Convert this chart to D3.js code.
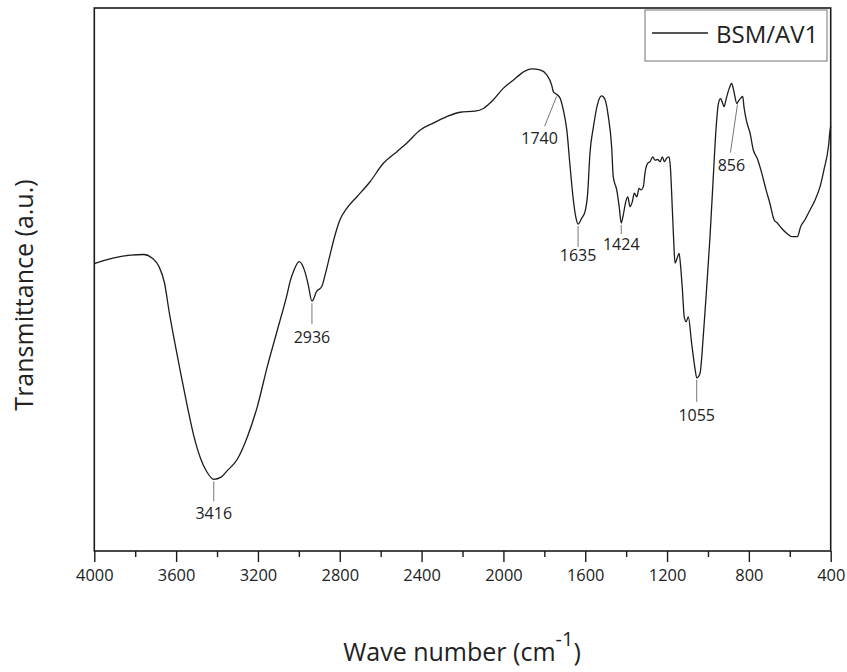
<!DOCTYPE html>
<html>
<head>
<meta charset="utf-8">
<script src="https://cdn.jsdelivr.net/npm/d3@7"></script>
<style>
  body { margin: 0; background: #fff; }
  svg { display: block; }
  text { font-family: Tahoma, "Open Sans", sans-serif; fill: #222; }
</style>
</head>
<body>
<svg id="chart" width="847" height="672"></svg>
<script>
// FTIR spectrum of BSM/AV1: wavenumber (cm-1) and transmittance (a.u.)
const wavenumber = [
  4000, 3993, 3904, 3822, 3757, 3716, 3684, 3657, 3633, 3609, 3578, 3545, 3513, 3480,
  3450, 3416, 3380, 3350, 3301, 3252, 3203, 3154, 3105, 3056, 3043, 3024, 2999, 2970,
  2954, 2936, 2913, 2888, 2872, 2848, 2823, 2799, 2766, 2717, 2652, 2587, 2522, 2473,
  2408, 2343, 2277, 2212, 2139, 2098, 2049, 2001, 1952, 1903, 1862, 1821, 1788, 1764,
  1756, 1740, 1723, 1707, 1690, 1674, 1658, 1645, 1635, 1617, 1601, 1588, 1577, 1560,
  1539, 1520, 1503, 1487, 1471, 1463, 1446, 1434, 1424, 1414, 1402, 1392, 1381, 1370,
  1360, 1348, 1337, 1327, 1316, 1308, 1295, 1283, 1270, 1259, 1246, 1234, 1223, 1213,
  1203, 1190, 1184, 1174, 1167, 1161, 1151, 1141, 1135, 1125, 1116, 1107, 1096, 1080,
  1063, 1055, 1039, 1023, 1006, 990, 974, 961, 949, 938, 928, 921, 912, 896,
  884, 873, 859, 852, 840, 830, 824, 811, 794, 778, 759, 737, 716, 697,
  677, 661, 639, 615, 591, 563, 547, 526, 501, 477, 452, 433, 411, 403, 400
];
const transmittance = [
  52.9, 53.0, 54.0, 54.5, 54.6, 53.9, 52.4, 49.4, 43.8, 38.9, 32.8, 26.6, 21.1, 17.0,
  14.6, 13.2, 13.6, 14.8, 16.9, 21.0, 26.6, 34.0, 40.7, 47.5, 49.6, 51.7, 53.3, 51.4,
  49.0, 46.0, 47.8, 48.7, 50.8, 54.5, 58.2, 61.0, 63.1, 65.2, 68.0, 71.4, 73.5, 75.1,
  77.5, 78.8, 80.0, 80.8, 81.0, 81.5, 83.1, 85.2, 86.7, 88.2, 88.8, 88.6, 87.7, 85.8,
  84.6, 84.1, 83.4, 81.2, 77.5, 70.8, 64.6, 61.3, 60.2, 61.3, 62.5, 65.9, 73.2, 78.1,
  82.4, 83.8, 83.1, 80.0, 74.5, 68.9, 66.5, 63.4, 60.4, 61.9, 64.3, 65.2, 63.4, 64.3,
  65.9, 65.2, 66.8, 66.5, 67.1, 69.6, 71.4, 71.7, 72.6, 72.0, 72.1, 71.7, 72.6, 71.7,
  72.3, 72.6, 70.8, 62.8, 56.7, 53.0, 53.9, 54.8, 53.0, 48.1, 43.1, 42.2, 43.1, 38.3,
  33.5, 31.9, 32.7, 39.5, 48.7, 57.9, 68.9, 77.5, 82.4, 83.3, 82.4, 81.8, 83.1, 85.2,
  86.1, 84.6, 82.4, 82.8, 83.4, 83.7, 81.8, 79.1, 76.9, 73.8, 72.3, 69.6, 66.5, 64.0,
  61.0, 60.4, 59.4, 58.5, 57.9, 57.9, 59.7, 61.0, 62.8, 64.6, 67.1, 70.2, 74.5, 77.5, 78.3
];

// Band positions marked on the spectrum
const peakWavenumbers = [3416, 2936, 1740, 1635, 1424, 1055, 856];

// Axis ticks
const majorTicks = [4000, 3600, 3200, 2800, 2400, 2000, 1600, 1200, 800, 400];
const minorTicks = [3800, 3400, 3000, 2600, 2200, 1800, 1400, 1000, 600];

const seriesName = "BSM/AV1";

// ---- layout ----
const plot = { left: 94.3, right: 830.7, top: 8, bottom: 551 };

// leader line end (lx, ly) and label anchor (tx, ty), relative to the band point
const labelOffsets = {
  3416: { lx: 0, ly: 22, tx: 0, ty: 40 },
  2936: { lx: 0, ly: 23, tx: 0, ty: 42 },
  1740: { lx: -12, ly: 32, tx: -17, ty: 50 },
  1635: { lx: 0, ly: 23, tx: 0, ty: 37 },
  1424: { lx: 0, ly: 11, tx: 0, ty: 27 },
  1055: { lx: 0, ly: 24, tx: 0, ty: 43 },
  856:  { lx: -7, ly: 50, tx: -6, ty: 68 }
};

const svg = d3.select("#chart");

const x = d3.scaleLinear().domain([4000, 400]).range([plot.left, plot.right]);
const y = d3.scaleLinear().domain([0, 100]).range([plot.bottom, plot.top]);

const points = wavenumber.map((w, i) => [w, transmittance[i]]);

// spectrum trace
const line = d3.line()
  .x(d => x(d[0]))
  .y(d => y(d[1]))
  .curve(d3.curveMonotoneX);

svg.append("path")
  .datum(points)
  .attr("fill", "none")
  .attr("stroke", "#1c1c1c")
  .attr("stroke-width", 1.3)
  .attr("stroke-linejoin", "round")
  .attr("d", line);

// frame
svg.append("rect")
  .attr("x", plot.left).attr("y", plot.top)
  .attr("width", plot.right - plot.left)
  .attr("height", plot.bottom - plot.top)
  .attr("fill", "none")
  .attr("stroke", "#1a1a1a")
  .attr("stroke-width", 1.6);

// bottom axis
const axisG = svg.append("g").attr("transform", `translate(0,${plot.bottom})`);
axisG.call(
  d3.axisBottom(x).tickValues(majorTicks).tickSize(11).tickPadding(7).tickFormat(d3.format("d"))
);
axisG.select(".domain").remove();
axisG.selectAll(".tick line").attr("stroke", "#1a1a1a").attr("stroke-width", 1.4);
axisG.selectAll(".tick text")
  .attr("font-family", 'Tahoma, "Open Sans", sans-serif')
  .attr("font-size", 16.4)
  .attr("fill", "#222");

const minorG = svg.append("g").attr("transform", `translate(0,${plot.bottom})`);
minorG.call(d3.axisBottom(x).tickValues(minorTicks).tickSize(6).tickFormat(""));
minorG.select(".domain").remove();
minorG.selectAll(".tick line").attr("stroke", "#1a1a1a").attr("stroke-width", 1.4);

// band labels
const bisect = d3.bisector(d => -d[0]).left;
function valueAt(w) {
  const i = bisect(points, -w);
  if (i <= 0) return points[0][1];
  if (i >= points.length) return points[points.length - 1][1];
  const a = points[i - 1], b = points[i];
  const t = (w - a[0]) / (b[0] - a[0]);
  return a[1] + t * (b[1] - a[1]);
}

const labels = svg.append("g");
peakWavenumbers.forEach(w => {
  const px = x(w), py = y(valueAt(w));
  const o = labelOffsets[w];
  labels.append("line")
    .attr("x1", px).attr("y1", py + 2)
    .attr("x2", px + o.lx).attr("y2", py + o.ly)
    .attr("stroke", "#777").attr("stroke-width", 1);
  labels.append("text")
    .attr("x", px + o.tx).attr("y", py + o.ty)
    .attr("text-anchor", "middle")
    .attr("font-size", 16)
    .text(w);
});

// legend
const legend = svg.append("g");
legend.append("rect")
  .attr("x", 645).attr("y", 10).attr("width", 182).attr("height", 51)
  .attr("fill", "#fff").attr("stroke", "#8a8a8a").attr("stroke-width", 1.2);
legend.append("line")
  .attr("x1", 652).attr("x2", 708).attr("y1", 33).attr("y2", 33)
  .attr("stroke", "#1c1c1c").attr("stroke-width", 1.4);
legend.append("text")
  .attr("x", 716).attr("y", 43)
  .attr("font-size", 24)
  .text(seriesName);

// axis titles
svg.append("text")
  .attr("transform", "translate(33,295) rotate(-90)")
  .attr("text-anchor", "middle")
  .attr("font-size", 25)
  .text("Transmittance (a.u.)");

const xt = svg.append("text")
  .attr("x", 462).attr("y", 661)
  .attr("text-anchor", "middle")
  .attr("font-size", 25);
xt.append("tspan").text("Wave number (cm");
xt.append("tspan").attr("dy", -15).attr("font-size", 20).text("-1");
xt.append("tspan").attr("dy", 15).text(")");
</script>
</body>
</html>
